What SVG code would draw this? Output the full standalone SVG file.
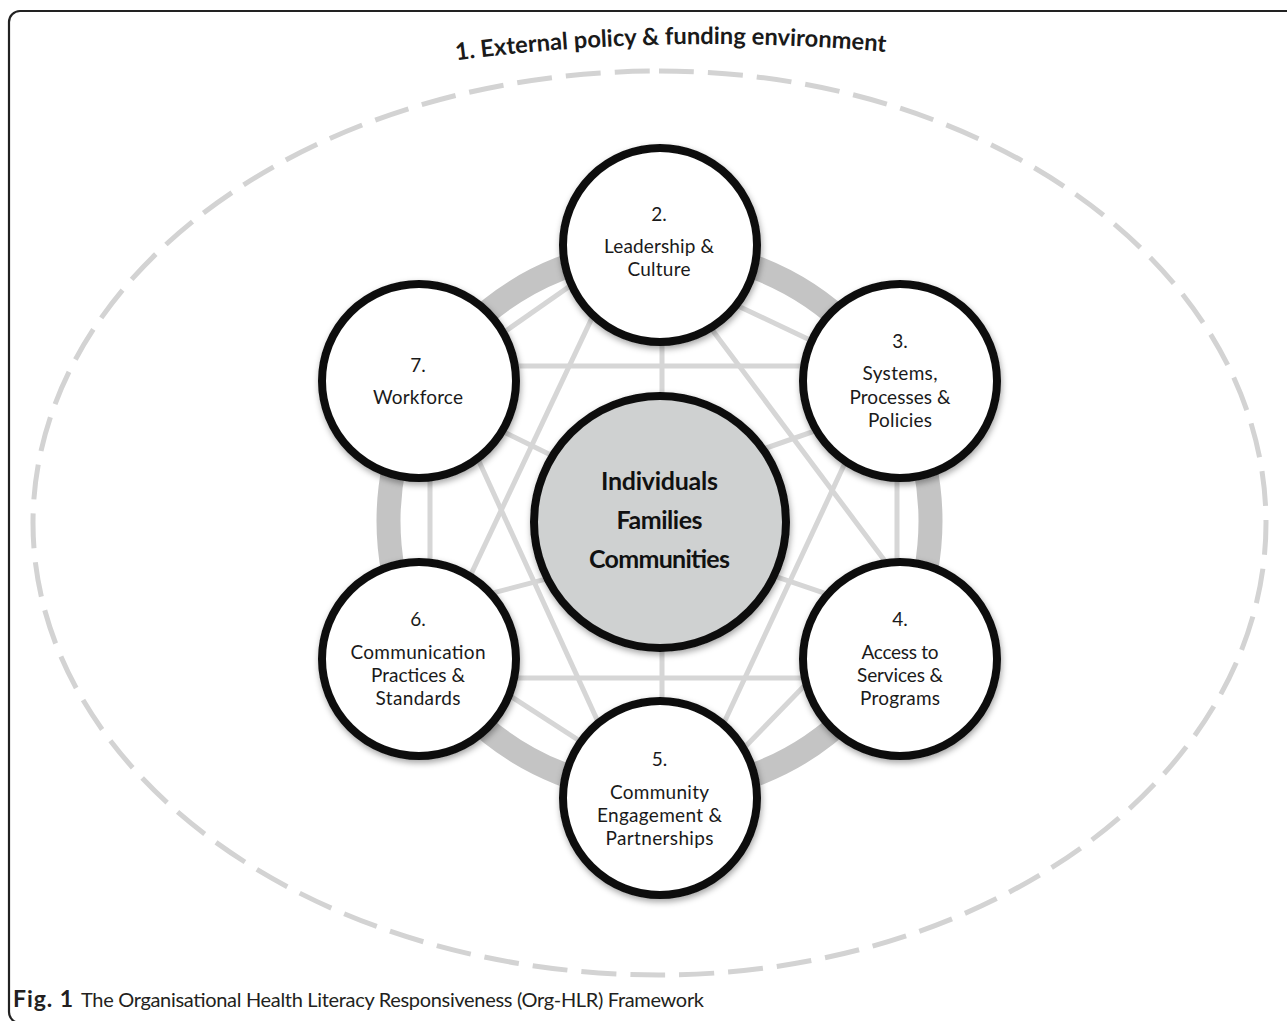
<svg xmlns="http://www.w3.org/2000/svg" width="1287" height="1021" viewBox="0 0 1287 1021">
<defs>
  <filter id="shadow" x="-20%" y="-20%" width="140%" height="140%">
    <feDropShadow dx="1" dy="3" stdDeviation="3" flood-color="#000" flood-opacity="0.35"/>
  </filter>
  <path id="titleArc" d="M400,68.3 A1980,1980 0 0 1 1018,68.3" fill="none"/>
</defs>
<style>
  .frame{fill:none;stroke:#222;stroke-width:2.2}
  .env{fill:none;stroke:#d3d3d3;stroke-width:5;stroke-dasharray:35 14}
  .ring{fill:none;stroke:#c4c4c4;stroke-width:24}
  .ln{stroke:#d6d6d6;stroke-width:5;fill:none}
  .node{fill:#fff;stroke:#111;stroke-width:8;filter:url(#shadow)}
  .core{fill:#cfd1d1;stroke:#111;stroke-width:8;filter:url(#shadow)}
  .t{font-family:Lato,"Liberation Sans",sans-serif;font-size:19px;fill:#1a1a1a;text-anchor:middle}
  .tb{font-family:Lato,"Liberation Sans",sans-serif;font-weight:bold;font-size:25px;fill:#111;text-anchor:middle}
  .title{font-family:Lato,"Liberation Sans",sans-serif;font-weight:bold;font-size:23.7px;fill:#1a1a1a}
  .cap{font-family:Lato,"Liberation Sans",sans-serif;font-size:20px;fill:#231f20}
  .capb{font-family:Lato,"Liberation Sans",sans-serif;font-size:23px;font-weight:bold;fill:#231f20}
</style>
<rect width="1287" height="1021" fill="#fff"/>
<path class="frame" d="M1290,11 H20 A11,11 0 0 0 9,22 V1012 A11,11 0 0 0 20,1023 H1290"/>

<g id="node1-environment">
  <path class="env" d="M659,71 A607,452 0 0 1 1266,523 A607,452 0 0 1 659,975 A626,452 0 0 1 33,523 A626,452 0 0 1 659,71 Z"/>
  <text class="title"><textPath href="#titleArc" startOffset="272" text-anchor="middle">1. External policy &amp; funding environment</textPath></text>
</g>

<g id="ring">
  <circle class="ring" cx="659.5" cy="521" r="271"/>
</g>

<g id="connectors">
  <line class="ln" x1="470" y1="356" x2="600" y2="265"/>
  <line class="ln" x1="700" y1="288" x2="850" y2="359"/>
  <line class="ln" x1="897" y1="381" x2="897" y2="659"/>
  <line class="ln" x1="840" y1="649" x2="710" y2="783"/>
  <line class="ln" x1="620" y1="767" x2="470" y2="670"/>
  <line class="ln" x1="430" y1="659" x2="430" y2="381"/>
  <line class="ln" x1="419" y1="366" x2="900" y2="366"/>
  <line class="ln" x1="419" y1="678" x2="900" y2="678"/>
  <line class="ln" x1="624" y1="250" x2="440" y2="640"/>
  <line class="ln" x1="660" y1="260" x2="929" y2="620"/>
  <line class="ln" x1="451" y1="400" x2="620" y2="770"/>
  <line class="ln" x1="865" y1="420" x2="702" y2="770"/>
  <line class="ln" x1="662" y1="250" x2="662" y2="795"/>
  <line class="ln" x1="470" y1="415.4" x2="560" y2="459.5"/>
  <line class="ln" x1="750" y1="453.7" x2="850" y2="418.7"/>
  <line class="ln" x1="760" y1="571.2" x2="850" y2="601.8"/>
  <line class="ln" x1="470" y1="599" x2="560" y2="575.4"/>
</g>

<g id="node-center">
  <circle class="core" cx="660" cy="522" r="126"/>
  <text class="tb" x="659.5" y="490" textLength="117">Individuals</text>
  <text class="tb" x="659.5" y="529" textLength="86">Families</text>
  <text class="tb" x="659.5" y="568" textLength="141">Communities</text>
</g>

<g id="node2">
  <circle class="node" cx="660" cy="245" r="97"/>
  <text class="t" x="659" y="221">2.</text>
  <text class="t" x="659" y="253" textLength="110">Leadership &amp;</text>
  <text class="t" x="659" y="276" textLength="63">Culture</text>
</g>

<g id="node3">
  <circle class="node" cx="900" cy="381" r="97"/>
  <text class="t" x="900" y="348">3.</text>
  <text class="t" x="900" y="380" textLength="75">Systems,</text>
  <text class="t" x="900" y="404" textLength="101">Processes &amp;</text>
  <text class="t" x="900" y="427" textLength="64">Policies</text>
</g>

<g id="node4">
  <circle class="node" cx="900" cy="659" r="97"/>
  <text class="t" x="900" y="626">4.</text>
  <text class="t" x="900" y="659" textLength="77">Access to</text>
  <text class="t" x="900" y="682" textLength="86">Services &amp;</text>
  <text class="t" x="900" y="705" textLength="80">Programs</text>
</g>

<g id="node5">
  <circle class="node" cx="660" cy="798" r="97"/>
  <text class="t" x="659.5" y="766">5.</text>
  <text class="t" x="659.5" y="799" textLength="99">Community</text>
  <text class="t" x="659.5" y="822" textLength="125">Engagement &amp;</text>
  <text class="t" x="659.5" y="845" textLength="108">Partnerships</text>
</g>

<g id="node6">
  <circle class="node" cx="419" cy="659" r="97"/>
  <text class="t" x="418" y="626">6.</text>
  <text class="t" x="418" y="659" textLength="135">Communication</text>
  <text class="t" x="418" y="682" textLength="94">Practices &amp;</text>
  <text class="t" x="418" y="705" textLength="85">Standards</text>
</g>

<g id="node7">
  <circle class="node" cx="419" cy="381" r="97"/>
  <text class="t" x="418" y="372">7.</text>
  <text class="t" x="418" y="404" textLength="90">Workforce</text>
</g>

<g id="caption">
  <text class="capb" x="13" y="1007" textLength="60">Fig. 1</text>
  <text class="cap" x="81" y="1007" textLength="623">The Organisational Health Literacy Responsiveness (Org-HLR) Framework</text>
</g>
</svg>
